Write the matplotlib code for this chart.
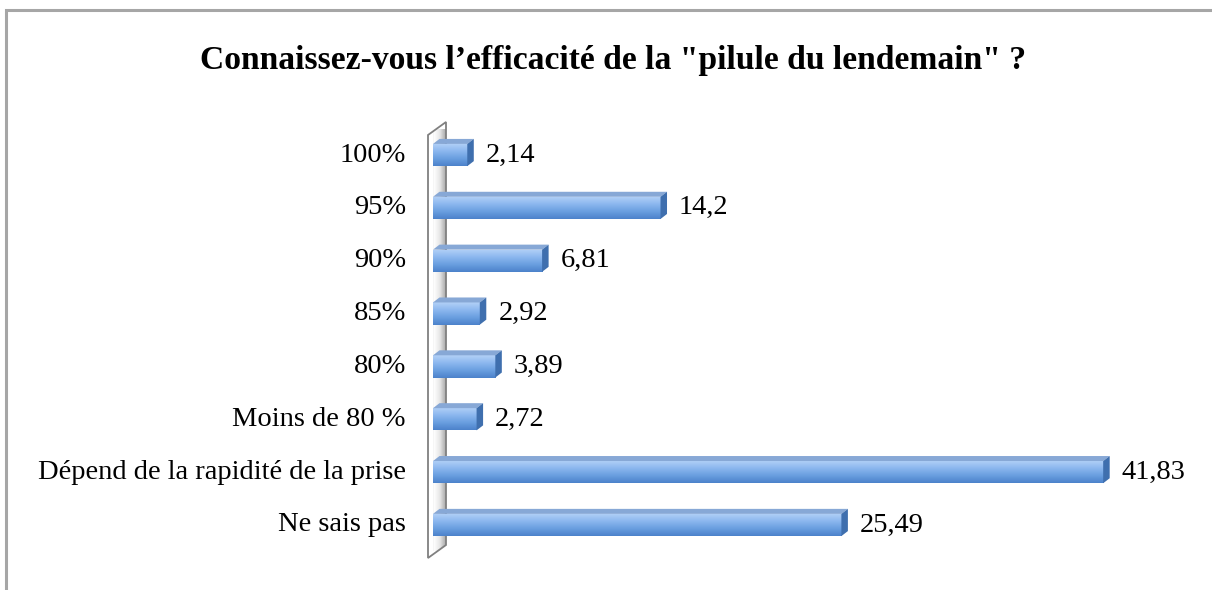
import numpy as np
import matplotlib
matplotlib.use("Agg")
import matplotlib.pyplot as plt
from matplotlib.patches import Polygon, Rectangle
from matplotlib.colors import LinearSegmentedColormap

# données
categories = ["100%", "95%", "90%", "85%", "80%", "Moins de 80 %",
              "Dépend de la rapidité de la prise", "Ne sais pas"]
valeurs = [2.14, 14.2, 6.81, 2.92, 3.89, 2.72, 41.83, 25.49]
etiquettes = ["2,14", "14,2", "6,81", "2,92", "3,89", "2,72", "41,83", "25,49"]
titre = "Connaissez-vous l’efficacité de la \"pilule du lendemain\" ?"

W, H = 1212, 590
plt.rcParams["font.family"] = ["Liberation Serif", "DejaVu Serif"]

fig = plt.figure(figsize=(W / 100, H / 100), dpi=100)

# cadre extérieur (coupé en bas et à droite)
fig.patches.append(Rectangle((6 / W, -0.05), 1.1, 1 - 10 / H + 0.05,
                             transform=fig.transFigure, fill=False,
                             edgecolor="#a6a6a6", lw=2.2))

# axes en pixels
x0, y_top, y_bot = 433, 128.6, 551.4
ax = fig.add_axes([x0 / W, 1 - y_bot / H, 737 / W, (y_bot - y_top) / H])
ax.set_xlim(0, 46)
ax.set_ylim(len(categories) - 0.5, -0.5)
ax.axis("off")

pos = np.arange(len(categories))
h = 0.42
px_x = 737 / 46          # px par unité
px_y = (y_bot - y_top) / len(categories)
dx = 6.5 / px_x          # profondeur 3D
dy = -5.0 / px_y

# mur gauche (gris, en biais)
def px2data(px, py):
    return ((px - x0) / px_x, (py - y_top) / px_y - 0.5)

wall = [px2data(428, 135), px2data(446, 122), px2data(446, 545), px2data(428, 558)]
gris = LinearSegmentedColormap.from_list("g", ["#a0a0a0", "#ffffff", "#e6e6e6", "#a8a8a8"])
wall_poly = Polygon(wall, closed=True, facecolor="none", edgecolor="#808080", lw=1.3,
                    zorder=2, clip_on=False)
ax.add_patch(wall_poly)
xs = [p[0] for p in wall]
ys = [p[1] for p in wall]
im = ax.imshow(np.linspace(0, 1, 64).reshape(1, -1), cmap=gris, aspect="auto",
               extent=[min(xs), max(xs), max(ys), min(ys)], zorder=1)
im.set_clip_path(wall_poly)
im.set_clip_on(True)

bleu = LinearSegmentedColormap.from_list("b", ["#b3d1f7", "#8db8ef", "#6a9fe0", "#4c82cb"])

bars = ax.barh(pos, valeurs, height=h, color="#8db8ef", edgecolor="none", zorder=3)
for b, v, lab in zip(bars, valeurs, etiquettes):
    y = b.get_y()
    grad = ax.imshow(np.linspace(0, 1, 64).reshape(-1, 1), cmap=bleu, aspect="auto",
                     extent=[0, v, y + h, y], zorder=4)
    grad.set_clip_path(b)
    # face du dessus
    top = Polygon([(0, y), (v, y), (v + dx, y + dy), (dx, y + dy)], closed=True,
                  facecolor="#87a8d6", edgecolor="none", zorder=4)
    ax.add_patch(top)
    # face de droite
    side = Polygon([(v, y), (v + dx, y + dy), (v + dx, y + h + dy), (v, y + h)],
                   closed=True, facecolor="#3f6fae", edgecolor="none", zorder=4)
    ax.add_patch(side)
    ax.text(v + dx + 12 / px_x, b.get_y() + h / 2, lab, va="center", ha="left",
            fontsize=20.5, color="black")

for p, c in zip(pos, categories):
    ax.text(-27 / px_x, p, c, va="center", ha="right", fontsize=20.5, color="black")

fig.text(613 / W, 1 - 60 / H, titre, ha="center", va="center",
         fontsize=24.2, fontweight="bold")

fig.savefig("out.png", dpi=100)
